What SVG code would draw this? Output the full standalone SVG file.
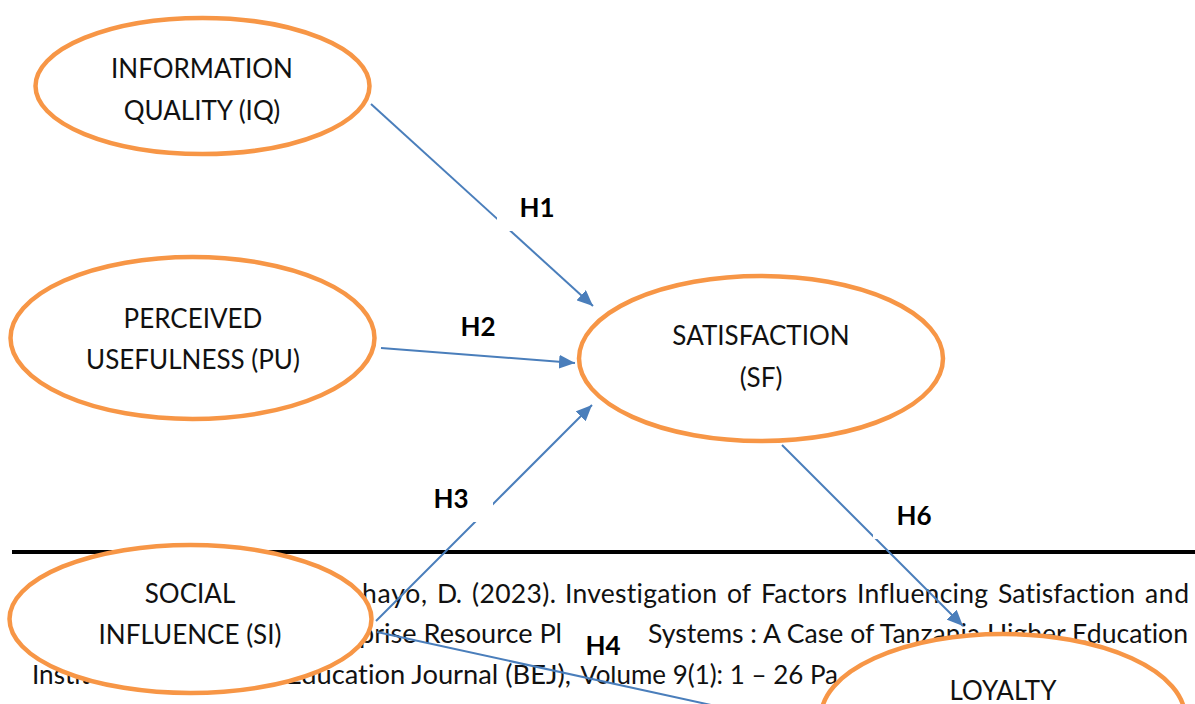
<svg xmlns="http://www.w3.org/2000/svg" width="1195" height="704" viewBox="0 0 1195 704">
<style>
text{font-variant-ligatures:none;font-feature-settings:"liga" 0}
.node{fill:#fff;stroke:#F79646;stroke-width:4.5}
.lbl{font-family:Lato,"Liberation Sans",sans-serif;font-size:26px;fill:#111;text-anchor:middle}
.foot{font-family:Lato,"Liberation Sans",sans-serif;font-size:26.5px;fill:#111}
.h{font-family:Lato,"Liberation Sans",sans-serif;font-size:26px;font-weight:bold;fill:#000;text-anchor:middle}
.edge{stroke:#4A7EBB;stroke-width:2;fill:none;marker-end:url(#arr)}
.box{fill:#fff}
</style>
<defs>
<marker id="arr" markerUnits="userSpaceOnUse" markerWidth="18" markerHeight="14" refX="16" refY="7" orient="auto">
<path d="M0,0 L16,7 L0,14 z" fill="#4A7EBB"/>
</marker>
</defs>
<rect width="1195" height="704" fill="#fff"/>
<g id="footer">
<line x1="12" y1="552" x2="1195" y2="552" stroke="#000" stroke-width="4"/>
<text class="foot" y="603" lengthAdjust="spacingAndGlyphs"><tspan x="362" textLength="65">hayo,</tspan><tspan x="437" textLength="25">D.</tspan><tspan x="472" textLength="84">(2023).</tspan><tspan x="565" textLength="152">Investigation</tspan><tspan x="727" textLength="24">of</tspan><tspan x="761" textLength="86">Factors</tspan><tspan x="857" textLength="131">Influencing</tspan><tspan x="998" textLength="137">Satisfaction</tspan><tspan x="1145" textLength="44">and</tspan></text>
<text class="foot" x="359" y="643" textLength="203" lengthAdjust="spacingAndGlyphs">prise Resource Pl</text>
<text class="foot" x="648" y="643" textLength="540" lengthAdjust="spacingAndGlyphs">Systems : A Case of Tanzania Higher Education</text>
<text class="foot" x="32" y="684" textLength="58" lengthAdjust="spacingAndGlyphs">Instit</text>
<text class="foot" x="286" y="684" textLength="285" lengthAdjust="spacingAndGlyphs">Education Journal (BEJ),</text>
<text class="foot" x="580" y="684" textLength="258" lengthAdjust="spacingAndGlyphs">Volume 9(1): 1 – 26 Pa</text>
</g>
<g id="connectors">
<line class="edge" x1="371" y1="104" x2="593" y2="306"/>
<line class="edge" x1="381" y1="348" x2="575" y2="363"/>
<line class="edge" x1="376" y1="621" x2="592" y2="405"/>
<line class="edge" x1="377" y1="632" x2="830" y2="731"/>
<line class="edge" x1="782" y1="445" x2="963" y2="626"/>
</g>
<g id="labels">
<rect class="box" x="497" y="191" width="81" height="40"/>
<text class="h" x="537" y="217">H1</text>
<rect class="box" x="438" y="300" width="80" height="40"/>
<text class="h" x="478" y="336">H2</text>
<rect class="box" x="411" y="482" width="82" height="40"/>
<text class="h" x="451" y="508">H3</text>
<rect class="box" x="563" y="626" width="81" height="40"/>
<text class="h" x="603" y="655">H4</text>
<rect class="box" x="873" y="499" width="83" height="40"/>
<text class="h" x="914" y="525">H6</text>
</g>
<g id="node-iq">
<ellipse class="node" cx="202.5" cy="86" rx="167" ry="68"/>
<text class="lbl" x="202" y="78">INFORMATION</text>
<text class="lbl" x="202" y="120">QUALITY (IQ)</text>
</g>
<g id="node-pu">
<ellipse class="node" cx="192.5" cy="338" rx="182" ry="81"/>
<text class="lbl" x="193" y="328">PERCEIVED</text>
<text class="lbl" x="193" y="369">USEFULNESS (PU)</text>
</g>
<g id="node-sf">
<ellipse class="node" cx="761" cy="358.5" rx="182" ry="82.5"/>
<text class="lbl" x="761" y="345">SATISFACTION</text>
<text class="lbl" x="761" y="387">(SF)</text>
</g>
<g id="node-si">
<ellipse class="node" cx="190.5" cy="619" rx="181" ry="74"/>
<text class="lbl" x="190" y="603">SOCIAL</text>
<text class="lbl" x="190" y="644">INFLUENCE (SI)</text>
</g>
<g id="node-ly">
<ellipse class="node" cx="1003" cy="717" rx="182" ry="83"/>
<text class="lbl" x="1003" y="700">LOYALTY</text>
</g>
</svg>
